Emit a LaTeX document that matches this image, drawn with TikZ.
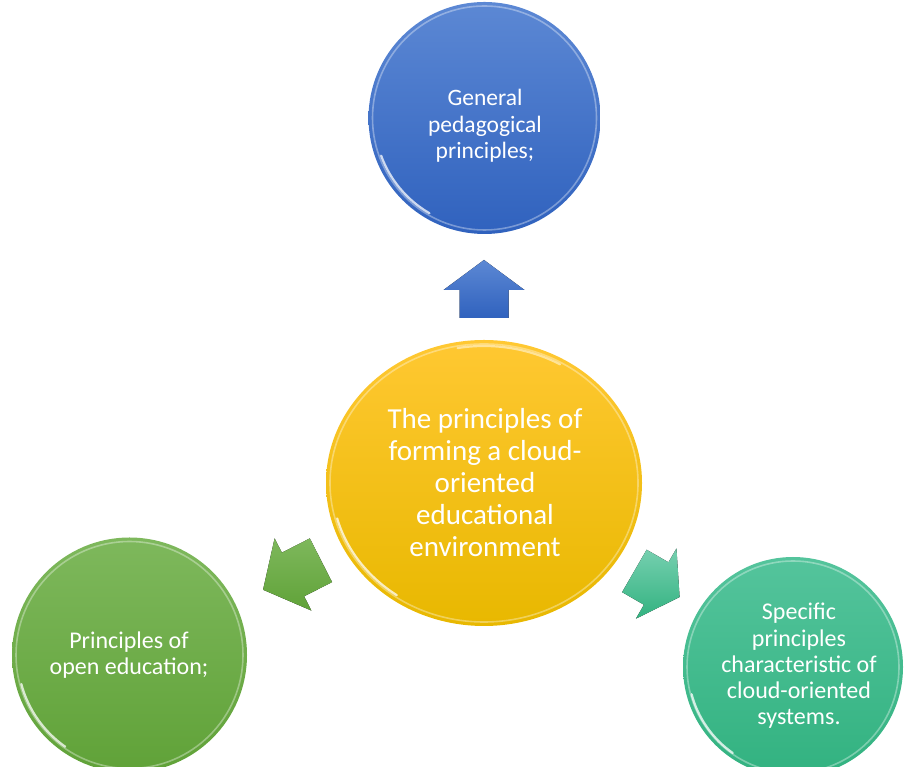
\documentclass[tikz,border=0pt]{standalone}
\usepackage{fontspec}
\setmainfont{Carlito}
\usetikzlibrary{shapes.geometric}
\definecolor{bluetop}{RGB}{92,136,212}
\definecolor{bluebot}{RGB}{48,98,190}
\definecolor{goldtop}{RGB}{255,200,50}
\definecolor{goldbot}{RGB}{232,184,0}
\definecolor{greentop}{RGB}{126,184,92}
\definecolor{greenbot}{RGB}{96,162,56}
\definecolor{tealtop}{RGB}{84,196,156}
\definecolor{tealbot}{RGB}{50,178,128}
\tikzset{
  bubble/.style={circle, inner sep=0pt, text=white, align=center},
  rimlight/.style={draw=white, draw opacity=0.35, line width=1.6pt},
  rimarc/.style={draw=white, draw opacity=0.75, line width=2.2pt, line cap=round},
  blockarrow/.style={line join=miter},
}
\newcommand{\arrowpath}{(-29,-24.5) -- (-1,-24.5) -- (-1,-40.5) -- (29,0) -- (-1,40.5) -- (-1,24.5) -- (-29,24.5) -- cycle}
\begin{document}
\begin{tikzpicture}[x=1pt,y=1pt]
\useasboundingbox (0,0) rectangle (904,767);
\begin{scope}
\clip (0,0) rectangle (904,767);
% top blue circle
\node[bubble, minimum size=232pt, top color=bluetop, bottom color=bluebot] (gen) at (484.5,649) {};
\draw[rimlight] (gen.center) circle (112);
\draw[rimarc] ([shift={(200:110)}]gen.center) arc (200:240:110);
\node[text=white, align=center, font=\fontsize{23.5}{26.5}\selectfont] (gent) at (485,641) {General\\pedagogical\\principles;};
% central ellipse
\node[ellipse, minimum width=316pt, minimum height=286pt, inner sep=0pt, top color=goldtop, bottom color=goldbot] (cen) at (484,284) {};
\draw[rimlight] (cen.center) ellipse (154 and 139);
\draw[rimarc] ([shift={(195:152 and 137)}]cen.center) arc (195:235:152 and 137);
\draw[rimarc, draw opacity=0.5] ([shift={(60:152 and 137)}]cen.center) arc (60:100:152 and 137);
\node[text=white, align=center, font=\fontsize{29}{32}\selectfont] (cent) at (485,284) {The principles of\\forming a cloud-\\oriented\\educational\\environment};
% green circle
\node[bubble, minimum size=235pt, top color=greentop, bottom color=greenbot] (open) at (129.5,112) {};
\draw[rimlight] (open.center) circle (113.5);
\draw[rimarc] ([shift={(195:112)}]open.center) arc (195:235:112);
\node[text=white, align=center, font=\fontsize{24}{25.5}\selectfont] (opent) at (129,112) {Principles of\\open education;};
% teal circle
\node[bubble, minimum size=220pt, top color=tealtop, bottom color=tealbot] (spec) at (793,100) {};
\draw[rimlight] (spec.center) circle (106);
\draw[rimarc] ([shift={(195:105)}]spec.center) arc (195:235:105);
\node[text=white, align=center, font=\fontsize{24}{26.2}\selectfont] (spect) at (799,101) {Specific\\principles\\characteristic of\\cloud-oriented\\systems.};
% arrows
\fill[blockarrow, top color=bluetop, bottom color=bluebot, shift={(484,478)}, rotate=90] \arrowpath;
\fill[blockarrow, top color=greentop, bottom color=greenbot, shift={(292,192)}, rotate=207, xscale=1.12] \arrowpath;
\fill[blockarrow, top color=tealtop!80!white, bottom color=tealbot, shift={(657,183)}, rotate=-30, xscale=0.9] \arrowpath;
\end{scope}
\end{tikzpicture}
\end{document}
